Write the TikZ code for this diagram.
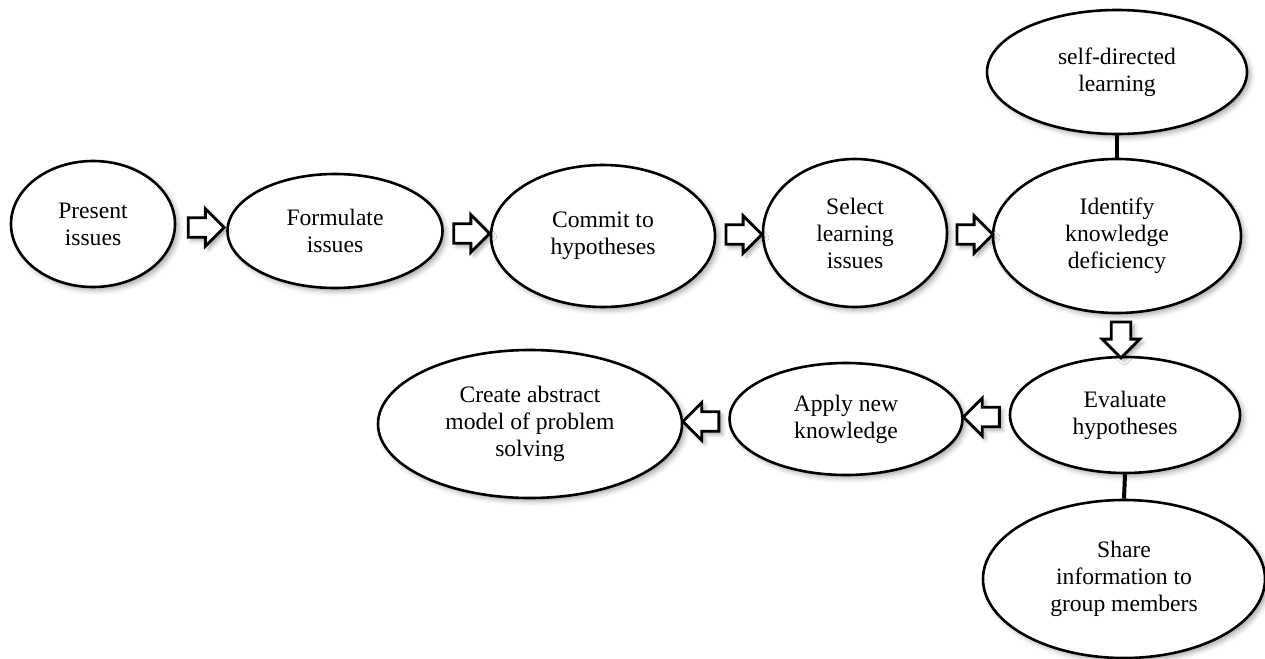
\documentclass[tikz,border=0pt]{standalone}
\usepackage{fontspec}
\setmainfont{Liberation Serif}
\usetikzlibrary{shapes.geometric, shapes.arrows, shadows.blur, calc}

\tikzset{
  oval/.style={ellipse, draw, line width=1.3pt, fill=white, inner sep=0pt, align=center,
    font=\fontsize{11.8}{13.5}\selectfont,
    blur shadow={shadow xshift=1.6pt, shadow yshift=-1.6pt, shadow blur radius=2.5pt, shadow opacity=35}},
  blockarrow/.style={single arrow, draw, line width=1.4pt, fill=white, inner sep=4.2pt,
    minimum height=18pt, minimum width=18pt, single arrow head extend=4.5pt,
    blur shadow={shadow xshift=1.6pt, shadow yshift=-1.6pt, shadow blur radius=2pt, shadow opacity=35}},
  link/.style={line width=2pt}
}

\begin{document}
\begin{tikzpicture}[x=0.5pt, y=-0.5pt]
    \useasboundingbox (0,0) rectangle (1265,659);
    % Hàng trên
    \node[oval, minimum width=164pt/2, minimum height=126pt/2] (present)   at (93,224)   {Present\\issues};
    \node[oval, minimum width=215pt/2, minimum height=114pt/2] (formulate) at (335,231)  {Formulate\\issues};
    \node[oval, minimum width=224pt/2, minimum height=142pt/2] (commit)    at (603,236)  {Commit to\\hypotheses};
    \node[oval, minimum width=184pt/2, minimum height=148pt/2] (select)    at (855,233)  {Select\\learning\\issues};
    \node[oval, minimum width=248pt/2, minimum height=154pt/2] (identify)  at (1117,236) {Identify\\knowledge\\deficiency};
    \node[oval, minimum width=260pt/2, minimum height=124pt/2] (selfdir)   at (1117,72)  {self-directed\\learning};
    % Hàng dưới
    \node[oval, minimum width=230pt/2, minimum height=116pt/2] (evaluate)  at (1125,415) {Evaluate\\hypotheses};
    \node[oval, minimum width=282pt/2, minimum height=158pt/2] (share)     at (1124,579) {Share\\information to\\group members};
    \node[oval, minimum width=233pt/2, minimum height=112pt/2] (apply)     at (846,419)  {Apply new\\knowledge};
    \node[oval, minimum width=304pt/2, minimum height=148pt/2] (create)    at (530,424)  {Create abstract\\model of problem\\solving};
    % Mũi tên khối
    \node[blockarrow] (a1) at ($(present.east)!0.5!(formulate.west)$) {};
    \node[blockarrow] (a2) at ($(formulate.east)!0.5!(commit.west)$) {};
    \node[blockarrow] (a3) at ($(commit.east)!0.5!(select.west)$) {};
    \node[blockarrow] (a4) at ($(select.east)!0.5!(identify.west)$) {};
    \node[blockarrow, shape border rotate=270] (a5) at ($(identify.south)!0.5!(evaluate.north)$) {};
    \node[blockarrow, shape border rotate=180] (a6) at ($(evaluate.west)!0.5!(apply.east)$) {};
    \node[blockarrow, shape border rotate=180] (a7) at ($(apply.west)!0.5!(create.east)$) {};
    % Đường nối
    \draw[link] (selfdir.south) -- (identify.north);
    \draw[link] (evaluate.south) -- (share.north);
\end{tikzpicture}
\end{document}
